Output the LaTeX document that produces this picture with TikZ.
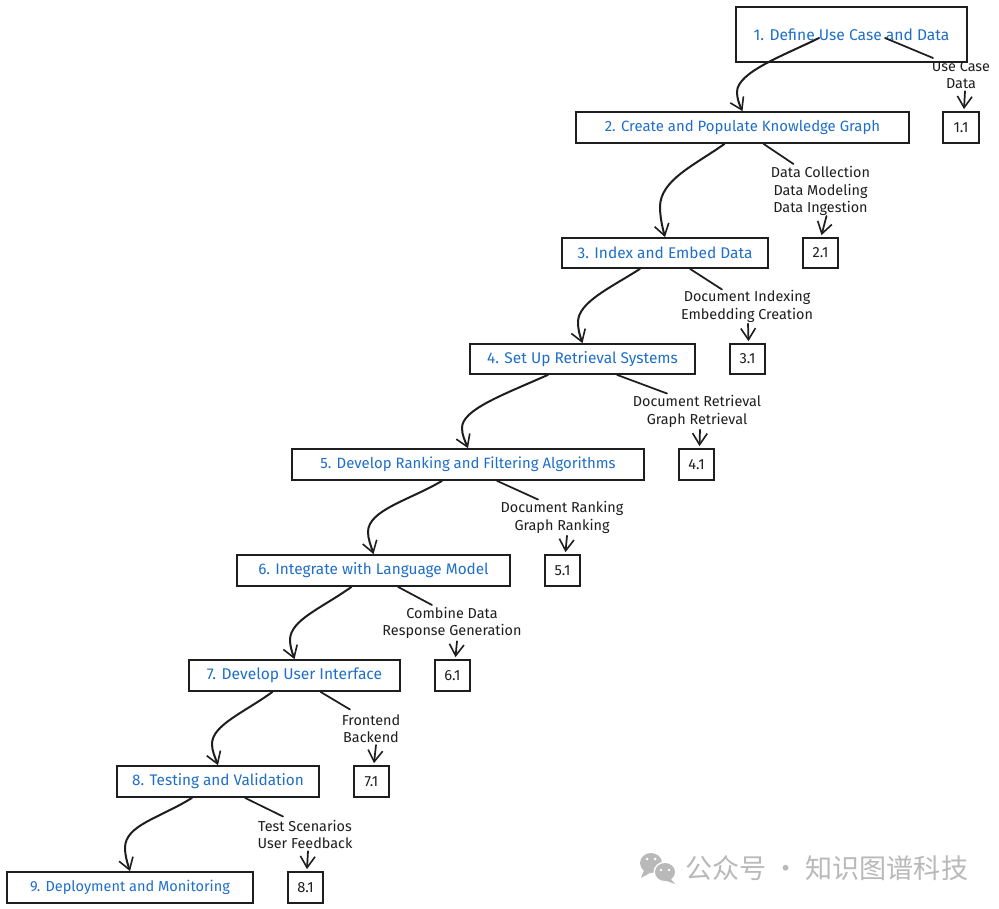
\documentclass[tikz,border=0pt]{standalone}
\usepackage{fontspec}
\setmainfont{Fira Sans}
\newfontfamily\cjk{Noto Sans CJK SC}
\usetikzlibrary{arrows.meta,calc}
\definecolor{stepblue}{HTML}{1F6FC9}
\definecolor{inkline}{HTML}{1E1E1E}
\definecolor{wmgray}{HTML}{B9B9B9}
\tikzset{
  x=0.75pt,y=-0.75pt,
  stepbox/.style={draw=inkline,line width=1.3pt,fill=white,text=stepblue,inner sep=0pt},
  subbox/.style={draw=inkline,line width=1.3pt,fill=white,text=inkline,inner sep=0pt,font=\fontsize{11}{12}\selectfont},
  lab/.style={align=center,text=inkline,inner sep=0pt,font=\fontsize{10.8}{13.2}\selectfont},
  flow/.style={draw=inkline,line width=1.5pt,line cap=round,-{Straight Barb[length=8.5pt,width=11pt,line width=1.2pt]}},
  stub/.style={draw=inkline,line width=1.3pt,line cap=round},
  hop/.style={flow,line width=1.3pt},
}
\newcommand{\stepnode}[7]{% name, x1,y1,x2,y2, style, text
  \node[#6,minimum width={(#4-#2)*0.75pt},minimum height={(#5-#3)*0.75pt}] (#1) at ({(#2+#4)/2},{(#3+#5)/2}) {#7};}
\newcommand{\steptext}[2]{\raisebox{-0.75pt}{\fontsize{#1}{12}\selectfont #2}}
\begin{document}
\begin{tikzpicture}
\useasboundingbox (0,0) rectangle (999,909);
\fill[white] (0,0) rectangle (999,909);
% labels
\node[lab] (l1) at (961,75) {Use Case\\Data};
\node[lab] (l2) at (820.5,191) {Data Collection\\Data Modeling\\Data Ingestion};
\node[lab] (l3) at (747,306.5) {Document Indexing\\Embedding Creation};
\node[lab] (l4) at (697,411.5) {Document Retrieval\\Graph Retrieval};
\node[lab] (l5) at (562,517.5) {Document Ranking\\Graph Ranking};
\node[lab] (l6) at (452,623) {Combine Data\\Response Generation};
\node[lab] (l7) at (371,728.5) {Frontend\\Backend};
\node[lab] (l8) at (305,834.5) {Test Scenarios\\User Feedback};
% boxes
\stepnode{n1}{736}{7}{967}{62}{stepbox}{\steptext{11.7}{1. Define Use Case and Data}}
\stepnode{n2}{576}{112}{909}{143}{stepbox}{\steptext{11.2}{2. Create and Populate Knowledge Graph}}
\stepnode{n3}{562}{238}{768}{268}{stepbox}{\steptext{11.6}{3. Index and Embed Data}}
\stepnode{n4}{470}{344}{695}{374}{stepbox}{\steptext{11.6}{4. Set Up Retrieval Systems}}
\stepnode{n5}{292}{449}{644}{480}{stepbox}{\steptext{11.2}{5. Develop Ranking and Filtering Algorithms}}
\stepnode{n6}{237}{555}{510}{586}{stepbox}{\steptext{11.5}{6. Integrate with Language Model}}
\stepnode{n7}{189}{660}{400}{691}{stepbox}{\steptext{11.7}{7. Develop User Interface}}
\stepnode{n8}{117}{766}{319}{797}{stepbox}{\steptext{11.5}{8. Testing and Validation}}
\stepnode{n9}{7}{872}{253}{903}{stepbox}{\steptext{10.9}{9. Deployment and Monitoring}}
\stepnode{s1}{943}{112}{979}{143}{subbox}{1.1}
\stepnode{s2}{803}{238}{838}{268}{subbox}{2.1}
\stepnode{s3}{730}{344}{765}{374}{subbox}{3.1}
\stepnode{s4}{679}{449}{714}{480}{subbox}{4.1}
\stepnode{s5}{545}{555}{580}{586}{subbox}{5.1}
\stepnode{s6}{435}{660}{470}{691}{subbox}{6.1}
\stepnode{s7}{354}{766}{389}{797}{subbox}{7.1}
\stepnode{s8}{288}{872}{323}{903}{subbox}{8.1}
% main flow
\draw[flow] ([shift={(-32.5,3.5)}]n1.center) .. controls (785,55) and (737,72) .. (737,92) .. controls (737,98) and (739,104) .. (n2.north);
\draw[flow] ([shift={(-18,0)}]n2.south) .. controls (695,165) and (660,180) .. (660,207) .. controls (660,216) and (662,226) .. (n3.north);
\draw[flow] ([shift={(-25,0)}]n3.south) .. controls (612,287) and (578,302) .. (578,322) .. controls (578,330) and (580,336) .. (n4.north);
\draw[flow] ([shift={(-34.5,0)}]n4.south) .. controls (500,396) and (462,410) .. (462,428) .. controls (462,435) and (465,441) .. (n5.north);
\draw[flow] ([shift={(-26,0)}]n5.south) .. controls (410,500) and (368,510) .. (368,532) .. controls (368,539) and (371,546) .. (n6.north);
\draw[flow] ([shift={(-22,0)}]n6.south) .. controls (322,608) and (290,620) .. (290,640) .. controls (290,646) and (292,652) .. (n7.north);
\draw[flow] ([shift={(-22,0)}]n7.south) .. controls (245,712) and (212,725) .. (212,744) .. controls (212,751) and (215,757) .. (n8.north);
\draw[flow] ([shift={(-26,0)}]n8.south) .. controls (160,818) and (125,825) .. (125,848) .. controls (125,855) and (127,862) .. (n9.north);
% stubs into labels
\draw[stub] ([shift={(33.5,3.5)}]n1.center) -- ([shift={(-28,-17)}]l1.center);
\draw[stub] ([shift={(21,0)}]n2.south) -- ([shift={(-27,-27)}]l2.center);
\draw[stub] ([shift={(25,0)}]n3.south) -- ([shift={(-25,-17)}]l3.center);
\draw[stub] ([shift={(34.5,0)}]n4.south) -- ([shift={(-30,-18)}]l4.center);
\draw[stub] ([shift={(29,0)}]n5.south) -- ([shift={(-24,-18)}]l5.center);
\draw[stub] ([shift={(24.5,0)}]n6.south) -- ([shift={(-20,-18)}]l6.center);
\draw[stub] ([shift={(26,0)}]n7.south) -- ([shift={(-21,-19)}]l7.center);
\draw[stub] ([shift={(27,0)}]n8.south) -- ([shift={(-22,-18)}]l8.center);
% labels to sub boxes
\draw[hop] ([shift={(4,2)}]l1.south) -- ([shift={(3,-2)}]s1.north);
\draw[hop] ([shift={(6,0)}]l2.south) -- ([shift={(1,-2)}]s2.north);
\draw[hop] ([shift={(1,1)}]l3.south) -- ([shift={(1,-2)}]s3.north);
\draw[hop] ([shift={(3,2)}]l4.south) -- ([shift={(3,-2)}]s4.north);
\draw[hop] ([shift={(5,2)}]l5.south) -- ([shift={(3,-2)}]s5.north);
\draw[hop] ([shift={(5,2)}]l6.south) -- ([shift={(3,-2)}]s6.north);
\draw[hop] ([shift={(5,2)}]l7.south) -- ([shift={(2.5,-2)}]s7.north);
\draw[hop] ([shift={(3,2)}]l8.south) -- ([shift={(1.5,-2)}]s8.north);
% watermark
\fill[wmgray] (651,863) ellipse [x radius=11,y radius=10];
\fill[wmgray] (644,870) -- (641,878) -- (650,873) -- cycle;
\fill[white] (665,872) ellipse [x radius=11.5,y radius=10.5];
\fill[wmgray] (665,872) ellipse [x radius=10,y radius=9];
\fill[wmgray] (670,878) -- (675,884) -- (664,880) -- cycle;
\fill[white] (647,859) circle (1.5) (655,859) circle (1.5) (661,870) circle (1.4) (669,870) circle (1.4);
\node[text=wmgray,inner sep=0pt,anchor=west,font=\cjk\fontsize{20.3}{24}\selectfont] (wm) at (685,868.5) {公众号 · 知识图谱科技};
\end{tikzpicture}
\end{document}
